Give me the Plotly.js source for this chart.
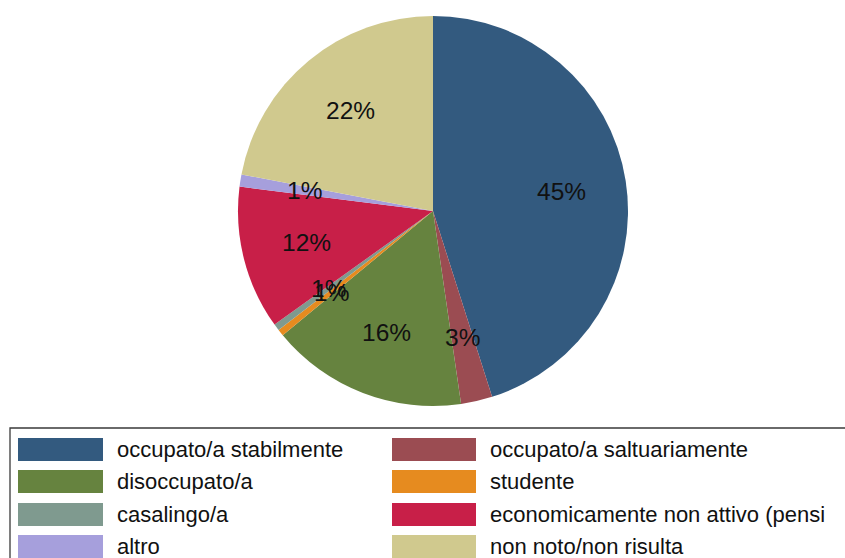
<!DOCTYPE html>
<html>
<head>
<meta charset="utf-8">
<script src="https://cdn.plot.ly/plotly-3.0.1.min.js"></script>
<style>html,body{margin:0;padding:0;background:#fff;}#chart{width:845px;height:558px;}</style>
</head>
<body>
<div id="chart"></div>
<script>
var categories = ["occupato/a stabilmente", "occupato/a saltuariamente", "disoccupato/a", "studente", "casalingo/a", "economicamente non attivo (pensi", "altro", "non noto/non risulta"];
var shares = [45.1, 2.6, 16.3, 0.55, 0.55, 11.9, 1.0, 22.0];
var colors = ["#335a7f", "#9b4c52", "#66833f", "#e68b1f", "#7f9a8f", "#c81f48", "#a69fdc", "#d0c98e"];

var W = 845, H = 558;
var dom = {x: [238 / W, 628 / W], y: [1 - 406 / H, 1 - 16 / H]};

var trace = {
  type: "pie",
  labels: categories,
  values: shares,
  sort: false,
  direction: "clockwise",
  rotation: 0,
  textinfo: "none",
  hoverinfo: "none",
  marker: {colors: colors, line: {width: 0}},
  domain: dom,
  showlegend: false
};

// percentage labels at 2/3 radius, horizontal
var total = shares.reduce(function (a, b) { return a + b; }, 0);
var cx = (dom.x[0] + dom.x[1]) / 2 * W;
var cy = (1 - (dom.y[0] + dom.y[1]) / 2) * H;
var R = (dom.x[1] - dom.x[0]) * W / 2;
var annotations = [];
var cum = 0;
shares.forEach(function (v) {
  var mid = (cum + v / 2) / total * 2 * Math.PI;
  cum += v;
  var px = cx + R * 2 / 3 * Math.sin(mid);
  var py = cy - R * 2 / 3 * Math.cos(mid);
  annotations.push({
    x: px / W, y: 1 - py / H, xref: "paper", yref: "paper",
    text: Math.round(v / total * 100) + "%", showarrow: false,
    xanchor: "center", yanchor: "middle",
    font: {family: "Liberation Sans, Arial, sans-serif", size: 24.5, color: "#111"}
  });
});

// legend drawn as a boxed two-column key
var shapes = [{
  type: "rect", xref: "paper", yref: "paper",
  x0: 10 / W, x1: 1.02, y0: -0.05, y1: 1 - 428 / H,
  line: {color: "#3a3a3a", width: 1.3}, fillcolor: "rgba(0,0,0,0)"
}];
var swX = [[18, 103], [392, 476]];
var txX = [115, 488];
var rowTop = [438, 470, 503, 535];
categories.forEach(function (c, i) {
  var col = i % 2, row = Math.floor(i / 2);
  var t = rowTop[row];
  shapes.push({
    type: "rect", xref: "paper", yref: "paper",
    x0: swX[col][0] / W, x1: swX[col][1] / W,
    y0: 1 - (t + 23) / H, y1: 1 - t / H,
    line: {width: 0}, fillcolor: colors[i]
  });
  annotations.push({
    x: txX[col] / W, y: 1 - (t + 11.5) / H, xref: "paper", yref: "paper",
    text: c, showarrow: false, xanchor: "left", yanchor: "middle",
    font: {family: "Liberation Sans, Arial, sans-serif", size: 22, color: "#111"}
  });
});

var layout = {
  width: W, height: H,
  margin: {l: 0, r: 0, t: 0, b: 0},
  paper_bgcolor: "#ffffff",
  plot_bgcolor: "#ffffff",
  showlegend: false,
  annotations: annotations,
  shapes: shapes
};

Plotly.newPlot("chart", [trace], layout, {displayModeBar: false, staticPlot: true});
</script>
</body>
</html>
